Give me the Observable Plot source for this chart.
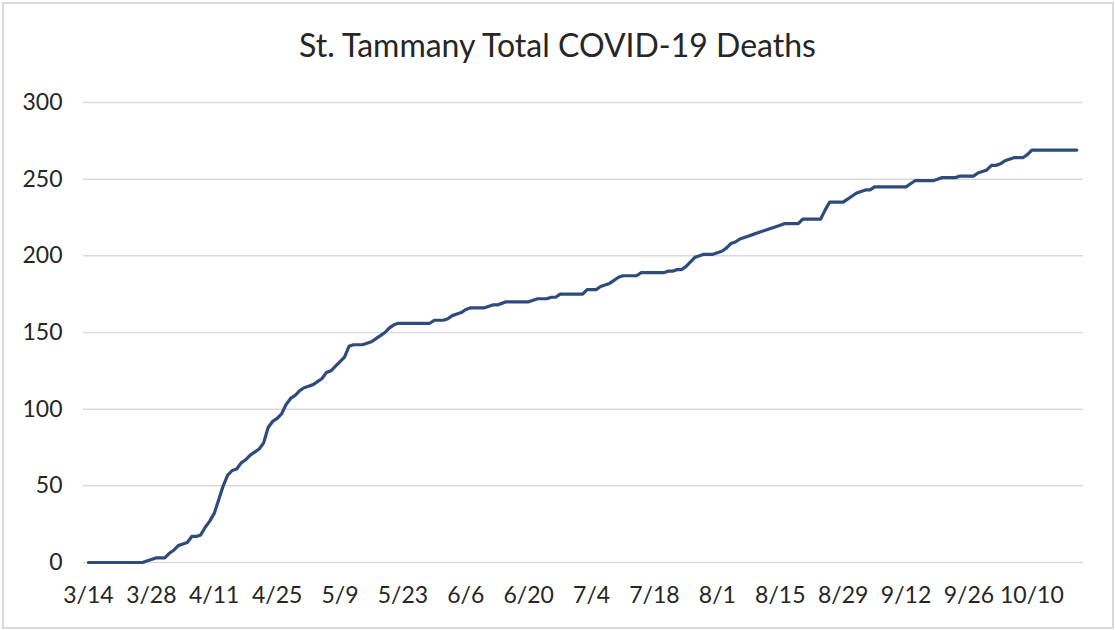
<!DOCTYPE html>
<html>
<head>
<meta charset="utf-8">
<script src="https://cdn.jsdelivr.net/npm/d3@7"></script>
<script src="https://cdn.jsdelivr.net/npm/@observablehq/plot@0.6"></script>
<style>
  html, body { margin: 0; padding: 0; background: #ffffff; }
  #frame { position: absolute; left: 2px; top: 2px; width: 1108px; height: 623px; border: 2px solid #d9d9d9; }
  #title { position: absolute; left: 0; top: 25px; width: 1115px; text-align: center;
           font-family: "Lato", "Open Sans", sans-serif; font-size: 32px; color: #262626; line-height: 40px; }
  #plot { position: absolute; left: 0; top: 70px; }
</style>
</head>
<body>
<div id="frame"></div>
<div id="title">St. Tammany Total COVID-19 Deaths</div>
<div id="plot"></div>
<script>
// First day of the series (2020-03-14); one value per day
const startDate = "2020-03-14";
// Cumulative deaths, one value per day from 3/14 to 10/20
const deaths = [
  0,0,0,0,0,0,0,0,0,0,0,0,0,            // 3/14 - 3/26
  1,2,3,3,3,6,8,11,12,13,17,17,18,      // 3/27 - 4/8
  23,27,32,41,50,57,60,61,65,67,70,72,74, // 4/9 - 4/21
  78,88,92,94,97,103,107,109,112,114,115,116,118, // 4/22 - 5/4
  120,124,125,128,131,134,141,142,142,142,143,144,146, // 5/5 - 5/17
  148,150,153,155,156,156,156,156,156,156,156,156,158, // 5/18 - 5/30
  158,158,159,161,162,163,165,166,166,166,166,167,168, // 5/31 - 6/12
  168,169,170,170,170,170,170,170,171,172,172,172,173, // 6/13 - 6/25
  173,175,175,175,175,175,175,178,178,178,180,181,182, // 6/26 - 7/8
  184,186,187,187,187,187,189,189,189,189,189,189,190, // 7/9 - 7/21
  190,191,191,193,196,199,200,201,201,201,202,203,205, // 7/22 - 8/3
  208,209,211,212,213,214,215,216,217,218,219,220,221, // 8/4 - 8/16
  221,221,221,224,224,224,224,224,230,235,235,235,235, // 8/17 - 8/29
  237,239,241,242,243,243,245,245,245,245,245,245,245, // 8/30 - 9/11
  245,247,249,249,249,249,249,250,251,251,251,251,252, // 9/12 - 9/24
  252,252,252,254,255,256,259,259,260,262,263,264,264, // 9/25 - 10/7
  264,266,269,269,269,269,269,269,269,269,269,269,269  // 10/8 - 10/20
];
// Tick labels
const xTickLabels = ["3/14","3/28","4/11","4/25","5/9","5/23","6/6","6/20","7/4","7/18","8/1","8/15","8/29","9/12","9/26","10/10"];
const yTicks = [0, 50, 100, 150, 200, 250, 300];

const DAY = 864e5;
const start = new Date(startDate + "T00:00:00Z");
const data = deaths.map((v, i) => ({date: new Date(start.getTime() + i * DAY), value: v}));
const tickDates = xTickLabels.map(s => { const [m, d] = s.split("/").map(Number); return new Date(Date.UTC(2020, m - 1, d)); });
const labelOf = new Map(tickDates.map((d, i) => [+d, xTickLabels[i]]));
const last = data[data.length - 1].date;

const chart = Plot.plot({
  width: 1115,
  height: 560,
  marginTop: 32,
  marginBottom: 68,
  marginLeft: 83,
  marginRight: 32,
  style: {fontFamily: "Lato, 'Open Sans', sans-serif", fontSize: "23px", color: "#262626", background: "transparent"},
  x: {type: "utc", domain: [new Date(start.getTime() - 1.1 * DAY), new Date(last.getTime() + 1.5 * DAY)]},
  y: {domain: [0, 300]},
  marks: [
    Plot.gridY(yTicks, {stroke: "#d9d9d9", strokeOpacity: 1, strokeWidth: 1.5}),
    Plot.lineY(data, {x: "date", y: "value", stroke: "#2f4b7c", strokeWidth: 3.2, strokeLinejoin: "round", strokeLinecap: "round"}),
    Plot.axisY(yTicks, {tickSize: 0, tickPadding: 21, label: null, fill: "#262626"}),
    Plot.axisX(tickDates, {tickSize: 0, tickPadding: 24, label: null, fill: "#262626", tickFormat: d => labelOf.get(+d)})
  ]
});
document.getElementById("plot").appendChild(chart);
</script>
</body>
</html>
